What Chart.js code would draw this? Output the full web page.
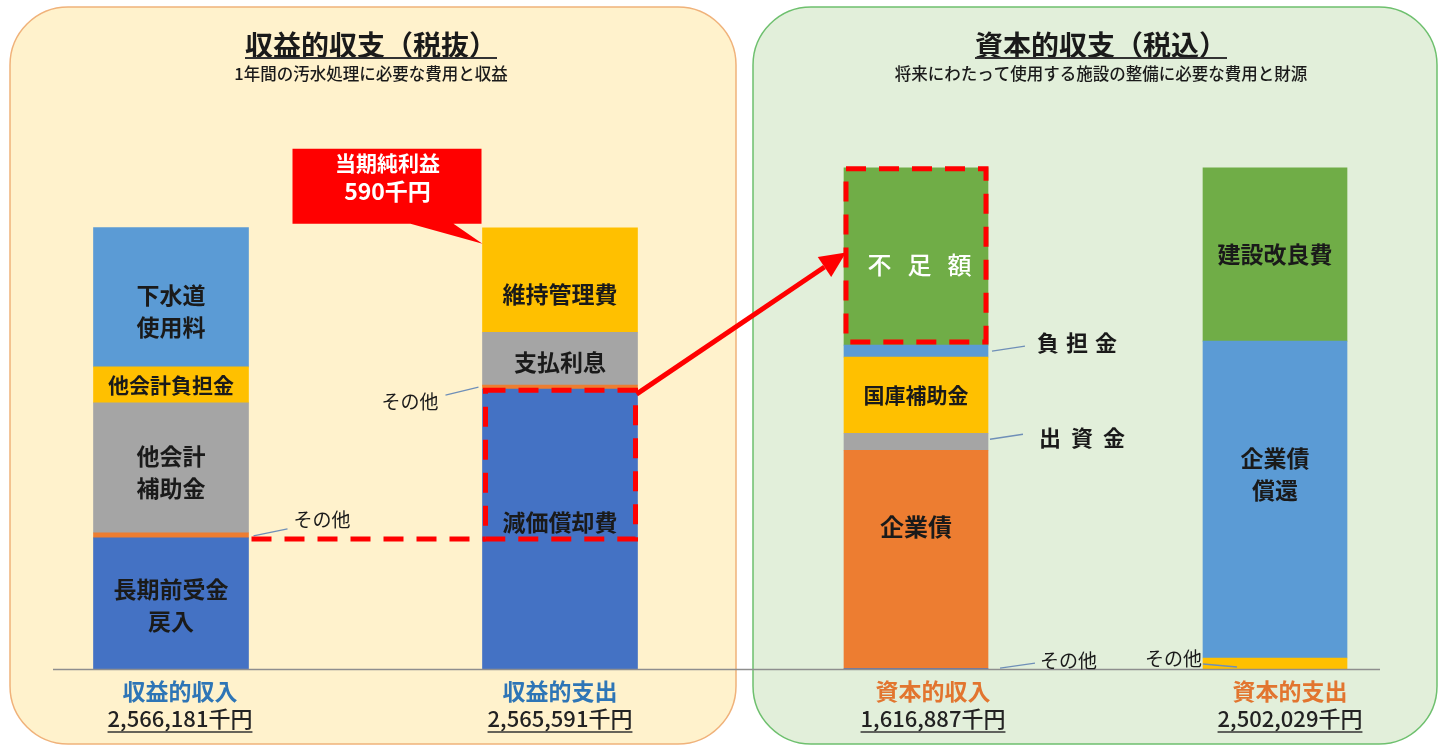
<!DOCTYPE html>
<html lang="ja">
<head>
<meta charset="utf-8">
<title>収益的収支・資本的収支</title>
<script src="https://cdn.jsdelivr.net/npm/chart.js@4.4.1/dist/chart.umd.min.js"></script>
<style>
html,body{margin:0;padding:0;background:#ffffff;overflow:hidden;}
#wrap{position:relative;width:1439px;height:747px;}
#wrap canvas{position:absolute;left:0;top:0;}
</style>
</head>
<body>
<div id="wrap">
<canvas id="cLeft" width="1439" height="747"></canvas>
<canvas id="cRight" width="1439" height="747"></canvas>
</div>
<script>
// ===== DATA (千円) =====
const revenueCategories = ['収益的収入', '収益的支出'];
const revenueTotals = [2566181, 2565591];
const incomeItems = ['長期前受金戻入', 'その他', '他会計補助金', '他会計負担金', '下水道使用料'];
const incomeValues = [762000, 29000, 756500, 209500, 809181];
const expenseItems = ['減価償却費', 'その他', '支払利息', '維持管理費'];
const expenseValues = [1627000, 23000, 308000, 607591];
const netProfitLabel = '当期純利益';
const netProfit = 590;

const capitalCategories = ['資本的収入', '資本的支出'];
const capitalTotals = [1616887, 2502029];
const capInItems = ['その他', '企業債', '出資金', '国庫補助金', '負担金', '不足額'];
const capInValues = [1887, 1090000, 85000, 380000, 60000, 885142];
const capOutItems = ['その他', '企業債償還', '建設改良費'];
const capOutValues = [55000, 1581500, 865529];

// ===== STYLE =====
const FONT = '"Noto Sans CJK JP", "Noto Sans", sans-serif';
const font = (size, weight) => `${weight || 'bold'} ${size}px ${FONT}`;
const COL = {blue:'#4472C4', lblue:'#5B9BD5', orange:'#ED7D31', gray:'#A5A5A5', yellow:'#FFC000', green:'#70AD47'};
const incomeColors = [COL.blue, COL.orange, COL.gray, COL.yellow, COL.lblue];
const expenseColors = [COL.blue, COL.orange, COL.gray, COL.yellow];
const capInColors = [COL.blue, COL.orange, COL.gray, COL.yellow, COL.lblue, COL.green];
const capOutColors = [COL.yellow, COL.lblue, COL.green];
const TEXT = '#1A1A1A';
const LEADER = '#6F8FB8';
const RED = '#FF0000';

const incomeSpec = [
  {brk:5, size:23, dy:2},
  {out:{edge:'right', a:[5,0.5], b:[39,-6.5], t:[45,-15.5], size:19, weight:'normal'}},
  {brk:3, size:23, dy:4},
  {size:21, dy:0},
  {brk:3, size:23, dy:14}
];
const expenseSpec = [
  {size:23, dy:-7},
  {out:{edge:'left', a:[-4,0], b:[-37,8], t:[-44,15], size:19, weight:'normal'}},
  {size:23, dy:4},
  {size:23, dy:14}
];
const capInSpec = [
  {out:{edge:'right', a:[12,-0.6], b:[47,-5.6], t:[52,-7.6], size:19, weight:'normal'}},
  {size:24, dy:-33},
  {out:{edge:'right', a:[2,-2.5], b:[35,-7.5], t:[51,-4.5], size:22, pitch:32}},
  {size:21, dy:0},
  {out:{edge:'right', a:[4,0], b:[37,-5], t:[49,-8], size:22, pitch:29}},
  {size:24, dy:8, dx:3.5, pitch:40, color:'#FFFFFF', weight:'500'}
];
const capOutSpec = [
  {out:{edge:'left', a:[0,0.5], b:[34,3.5], t:[-1,-4.5], size:19, weight:'normal'}},
  {brk:3, size:23, dy:-25},
  {size:23, dy:0}
];

const PANELS = [
  {x:10, y:7, w:726, h:737, r:58, fill:'#FFF2CC', stroke:'#F0B27A', title:'収益的収支（税抜）', sub:'1年間の汚水処理に必要な費用と収益', cx:371},
  {x:753, y:7, w:684, h:737, r:58, fill:'#E2EFDA', stroke:'#6EC06E', title:'資本的収支（税込）', sub:'将来にわたって使用する施設の整備に必要な費用と財源', cx:1101}
];

// ===== HELPERS =====
function makeDatasets(items, values, colors, specs, barIdx, nBars, thick) {
  return items.map((name, i) => {
    const data = new Array(nBars).fill(null);
    data[barIdx] = values[i];
    return {label:name, data, backgroundColor:colors[i], borderWidth:0, barThickness:thick,
            stack:'s', clip:false, _bar:barIdx, _spec:specs[i]};
  });
}
function roundRect(ctx, x, y, w, h, r) {
  ctx.beginPath();
  ctx.moveTo(x + r, y);
  ctx.arcTo(x + w, y, x + w, y + h, r);
  ctx.arcTo(x + w, y + h, x, y + h, r);
  ctx.arcTo(x, y + h, x, y, r);
  ctx.arcTo(x, y, x + w, y, r);
  ctx.closePath();
}
function barBox(chart, di, bi) {
  const el = chart.getDatasetMeta(di).data[bi];
  const p = el.getProps(['x', 'y', 'base', 'width'], true);
  return {x:p.x, top:Math.min(p.y, p.base), bottom:Math.max(p.y, p.base), left:p.x - p.width / 2, right:p.x + p.width / 2};
}
function spacedText(ctx, text, centerX, y, pitch) {
  const chars = Array.from(text);
  const start = centerX - (chars.length - 1) * pitch / 2;
  chars.forEach((ch, i) => ctx.fillText(ch, start + i * pitch, y));
}
function drawSegmentLabels(chart) {
  const ctx = chart.ctx;
  ctx.save();
  ctx.textBaseline = 'middle';
  chart.data.datasets.forEach((ds, di) => {
    const s = ds._spec;
    if (!s) return;
    const b = barBox(chart, di, ds._bar);
    const cy = (b.top + b.bottom) / 2;
    if (s.out) {
      const o = s.out;
      const ex = o.edge === 'right' ? b.right : b.left;
      ctx.strokeStyle = LEADER;
      ctx.lineWidth = 1.3;
      ctx.beginPath();
      ctx.moveTo(ex + o.a[0], cy + o.a[1]);
      ctx.lineTo(ex + o.b[0], cy + o.b[1]);
      ctx.stroke();
      ctx.fillStyle = TEXT;
      ctx.font = font(o.size, o.weight);
      const tx = ex + o.t[0], ty = cy + o.t[1];
      if (o.pitch) {
        const n = Array.from(ds.label).length;
        spacedText(ctx, ds.label, tx + o.size / 2 + (n - 1) * o.pitch / 2, ty, o.pitch);
      } else {
        ctx.textAlign = o.edge === 'right' ? 'left' : 'right';
        ctx.fillText(ds.label, tx, ty);
      }
      return;
    }
    ctx.fillStyle = s.color || TEXT;
    ctx.font = font(s.size, s.weight);
    ctx.textAlign = 'center';
    const x = b.x + (s.dx || 0);
    const y = cy + (s.dy || 0);
    if (s.pitch) { spacedText(ctx, ds.label, x, y, s.pitch); return; }
    const lines = s.brk ? [ds.label.slice(0, s.brk), ds.label.slice(s.brk)] : [ds.label];
    const lh = 32;
    lines.forEach((ln, i) => ctx.fillText(ln, x, y + (i - (lines.length - 1) / 2) * lh));
  });
  ctx.restore();
}
function drawCategoryLabels(chart, totals, color, offsets) {
  const ctx = chart.ctx;
  const xs = chart.scales.x;
  ctx.save();
  ctx.textBaseline = 'middle';
  ctx.textAlign = 'center';
  chart.data.labels.forEach((lab, i) => {
    const cx = xs.getPixelForValue(i) + offsets[i];
    ctx.fillStyle = color;
    ctx.font = font(23, 'bold');
    ctx.fillText(lab, cx, 691);
    const amt = totals[i].toLocaleString('en-US') + '千円';
    ctx.fillStyle = '#222222';
    ctx.font = font(22, '500');
    ctx.fillText(amt, cx, 719);
    const w = ctx.measureText(amt).width;
    ctx.strokeStyle = '#333333';
    ctx.lineWidth = 1.5;
    ctx.beginPath();
    ctx.moveTo(cx - w / 2, 732);
    ctx.lineTo(cx + w / 2, 732);
    ctx.stroke();
  });
  ctx.restore();
}
function dashedRect(ctx, x1, y1, x2, y2) {
  ctx.beginPath();
  ctx.moveTo(x1, y1); ctx.lineTo(x2, y1); ctx.lineTo(x2, y2); ctx.lineTo(x1, y2); ctx.closePath();
  ctx.stroke();
}

// ===== LEFT CHART: 収益的収支 =====
const leftDecor = {
  id:'leftDecor',
  beforeDraw(chart) {
    const ctx = chart.ctx;
    ctx.save();
    ctx.fillStyle = '#FFFFFF';
    ctx.fillRect(0, 0, chart.width, chart.height);
    PANELS.forEach(p => {
      roundRect(ctx, p.x, p.y, p.w, p.h, p.r);
      ctx.fillStyle = p.fill; ctx.fill();
      ctx.strokeStyle = p.stroke; ctx.lineWidth = 1.5; ctx.stroke();
      ctx.fillStyle = '#1A1A1A';
      ctx.textAlign = 'center';
      ctx.textBaseline = 'middle';
      ctx.font = font(28, 'bold');
      ctx.fillText(p.title, p.cx, 45);
      const tw = ctx.measureText(p.title).width;
      ctx.strokeStyle = '#333333'; ctx.lineWidth = 2;
      ctx.beginPath(); ctx.moveTo(p.cx - tw / 2, 58); ctx.lineTo(p.cx + tw / 2, 58); ctx.stroke();
      ctx.font = font(16.5, '500');
      ctx.fillText(p.sub, p.cx, 74);
    });
    ctx.restore();
  },
  afterDatasetsDraw(chart) {
    const ctx = chart.ctx;
    drawSegmentLabels(chart);
    const nInc = incomeItems.length;
    const b1 = barBox(chart, 0, 0);                       // 長期前受金戻入
    const dep = barBox(chart, nInc, 1);                   // 減価償却費
    const top2 = barBox(chart, nInc + expenseItems.length - 1, 1); // top of 収益的支出
    // dashed frame + connecting dashed line
    ctx.save();
    ctx.strokeStyle = RED; ctx.lineWidth = 5; ctx.setLineDash([20, 13]);
    dashedRect(ctx, dep.left + 3, dep.top + 1, dep.right - 2, b1.top + 1);
    ctx.beginPath(); ctx.moveTo(b1.right + 3, b1.top + 1); ctx.lineTo(dep.left + 3, b1.top + 1); ctx.stroke();
    ctx.restore();
    // callout 当期純利益
    ctx.save();
    const L = top2.left, T = top2.top;
    ctx.fillStyle = RED;
    ctx.beginPath();
    ctx.moveTo(L - 190, T - 79); ctx.lineTo(L - 1, T - 79); ctx.lineTo(L - 1, T - 4);
    ctx.lineTo(L - 29, T - 4); ctx.lineTo(L, T + 16); ctx.lineTo(L - 72, T - 4);
    ctx.lineTo(L - 190, T - 4); ctx.closePath();
    ctx.fill();
    ctx.fillStyle = '#FFFFFF';
    ctx.textAlign = 'center'; ctx.textBaseline = 'middle';
    ctx.font = font(21, 'bold');
    ctx.fillText(netProfitLabel, L - 95, T - 65);
    ctx.font = font(23, 'bold');
    ctx.fillText(netProfit.toLocaleString('en-US') + '千円', L - 95, T - 36);
    ctx.restore();
    drawCategoryLabels(chart, revenueTotals, '#2E75B6', [9, 0]);
  }
};

let chartL = new Chart(document.getElementById('cLeft'), {
  type:'bar',
  data:{
    labels: revenueCategories,
    datasets:[
      ...makeDatasets(incomeItems, incomeValues, incomeColors, incomeSpec, 0, 2, 155),
      ...makeDatasets(expenseItems, expenseValues, expenseColors, expenseSpec, 1, 2, 155)
    ]
  },
  options:{
    responsive:false, animation:false, events:[], devicePixelRatio:1,
    layout:{padding:{left:171, right:879, top:153, bottom:78}},
    plugins:{legend:{display:false}, tooltip:{enabled:false}, title:{display:false}},
    scales:{
      x:{type:'category', offset:false, stacked:true, display:false},
      y:{min:0, max:3000000, stacked:true, display:false}
    }
  },
  plugins:[leftDecor]
});

// ===== RIGHT CHART: 資本的収支 =====
const rightDecor = {
  id:'rightDecor',
  afterDatasetsDraw(chart) {
    const ctx = chart.ctx;
    // baseline
    const y0 = chart.scales.y.getPixelForValue(0);
    ctx.save();
    ctx.strokeStyle = '#8E8E8E'; ctx.lineWidth = 1.5;
    ctx.beginPath(); ctx.moveTo(53, y0 + 0.5); ctx.lineTo(1380, y0 + 0.5); ctx.stroke();
    ctx.restore();
    drawSegmentLabels(chart);
    const gap = barBox(chart, capInItems.length - 1, 0); // 不足額
    ctx.save();
    ctx.strokeStyle = RED; ctx.lineWidth = 5; ctx.setLineDash([20, 13]);
    dashedRect(ctx, gap.left + 2, gap.top + 1, gap.right - 2, gap.bottom - 3);
    ctx.restore();
    // arrow from 減価償却費 frame to 不足額
    const dep = barBox(chartL, incomeItems.length, 1);
    const x1 = dep.right - 1, y1 = dep.top + 5;
    const x2 = gap.left + 2, y2 = (gap.top + gap.bottom) / 2 - 4;
    const ang = Math.atan2(y2 - y1, x2 - x1);
    const hl = 26, hw = 12;
    const bx = x2 - hl * Math.cos(ang), by = y2 - hl * Math.sin(ang);
    ctx.save();
    ctx.strokeStyle = RED; ctx.fillStyle = RED; ctx.lineWidth = 5;
    ctx.beginPath(); ctx.moveTo(x1, y1); ctx.lineTo(bx, by); ctx.stroke();
    ctx.beginPath();
    ctx.moveTo(x2, y2);
    ctx.lineTo(bx + hw * Math.sin(ang), by - hw * Math.cos(ang));
    ctx.lineTo(bx - hw * Math.sin(ang), by + hw * Math.cos(ang));
    ctx.closePath(); ctx.fill();
    ctx.restore();
    drawCategoryLabels(chart, capitalTotals, '#E2752F', [17, 15]);
  }
};

let chartR = new Chart(document.getElementById('cRight'), {
  type:'bar',
  data:{
    labels: capitalCategories,
    datasets:[
      ...makeDatasets(capInItems, capInValues, capInColors, capInSpec, 0, 2, 144),
      ...makeDatasets(capOutItems, capOutValues, capOutColors, capOutSpec, 1, 2, 144)
    ]
  },
  options:{
    responsive:false, animation:false, events:[], devicePixelRatio:1,
    layout:{padding:{left:916, right:164, top:68, bottom:78}},
    plugins:{legend:{display:false}, tooltip:{enabled:false}, title:{display:false}},
    scales:{
      x:{type:'category', offset:false, stacked:true, display:false},
      y:{min:0, max:3000000, stacked:true, display:false}
    }
  },
  plugins:[rightDecor]
});
</script>
</body>
</html>
